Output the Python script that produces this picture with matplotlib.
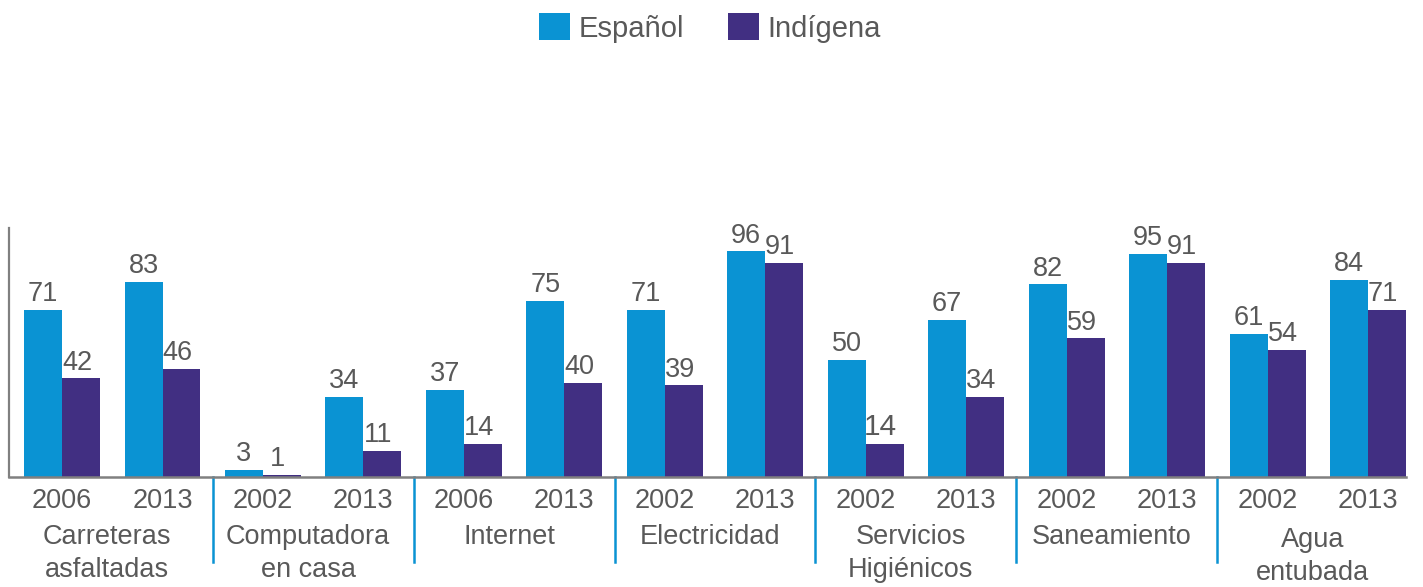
import matplotlib.pyplot as plt
import numpy as np
from matplotlib.patches import Patch

plt.rcParams['font.family'] = ['Liberation Sans', 'DejaVu Sans']

# data
categories = ['Carreteras\nasfaltadas', 'Computadora\nen casa', 'Internet',
              'Electricidad', 'Servicios\nHigiénicos', 'Saneamiento',
              'Agua\nentubada']
years = ['2006', '2013', '2002', '2013', '2006', '2013', '2002', '2013',
         '2002', '2013', '2002', '2013', '2002', '2013']
espanol = [71, 83, 3, 34, 37, 75, 71, 96, 50, 67, 82, 95, 61, 84]
indigena = [42, 46, 1, 11, 14, 40, 39, 91, 14, 34, 59, 91, 54, 71]

BLUE = '#0a93d3'
PURPLE = '#412f82'
TEXT = '#595959'
AXIS = '#808080'
FS = 19.5

fig = plt.figure(figsize=(14.23, 5.87), dpi=100)
ax = fig.add_axes([9 / 1423, 1 - 477 / 587, (1406 - 9) / 1423, (477 - 228) / 587])

x = np.arange(len(years))
w = 0.378
ax.bar(x - w / 2, espanol, w, color=BLUE)
ax.bar(x + w / 2, indigena, w, color=PURPLE)

for i in range(len(x)):
    ax.text(x[i] - w / 2, espanol[i] + 1.2, str(espanol[i]), ha='center', va='bottom',
            fontsize=FS, color=TEXT)
    fs = 21.5 if (i == 8) else FS
    ax.text(x[i] + w / 2 - 0.04, indigena[i] + 1.2, str(indigena[i]), ha='center',
            va='bottom', fontsize=fs, color=TEXT)

ax.set_xlim(-0.528, len(x) - 1 + w)
ax.set_ylim(0, 106)
ax.set_xticks([])
ax.set_yticks([])
for s in ['top', 'right']:
    ax.spines[s].set_visible(False)
ax.spines['left'].set_color(AXIS)
ax.spines['bottom'].set_color(AXIS)
ax.spines['left'].set_linewidth(1.6)
ax.spines['bottom'].set_linewidth(1.8)

trans = ax.get_xaxis_transform()
# year labels
for i, y in enumerate(years):
    ax.text(x[i], -0.096, y, transform=trans, ha='center', va='center',
            fontsize=FS, color=TEXT)

# category labels, one text per line
for j, c in enumerate(categories):
    y0 = -0.241 if j < 6 else -0.253
    for k, line in enumerate(c.split('\n')):
        ax.text(2 * j + 0.45, y0 - 0.134 * k, line, transform=trans, ha='center',
                va='center', fontsize=FS, color=TEXT)

# separators between categories
for j in range(1, len(categories)):
    ax.plot([2 * j - 0.5, 2 * j - 0.5], [0, -0.34], transform=trans, color=BLUE,
            lw=1.8, clip_on=False)

handles = [Patch(facecolor=BLUE, label='Español'), Patch(facecolor=PURPLE, label='Indígena')]
fig.legend(handles=handles, loc='center', bbox_to_anchor=(710 / 1423, 1 - 28 / 587),
           ncol=2, frameon=False, fontsize=21, handlelength=1.05, handleheight=1.05,
           handletextpad=0.3, columnspacing=1.5, labelcolor=TEXT)

fig.savefig('out.png', dpi=100)
